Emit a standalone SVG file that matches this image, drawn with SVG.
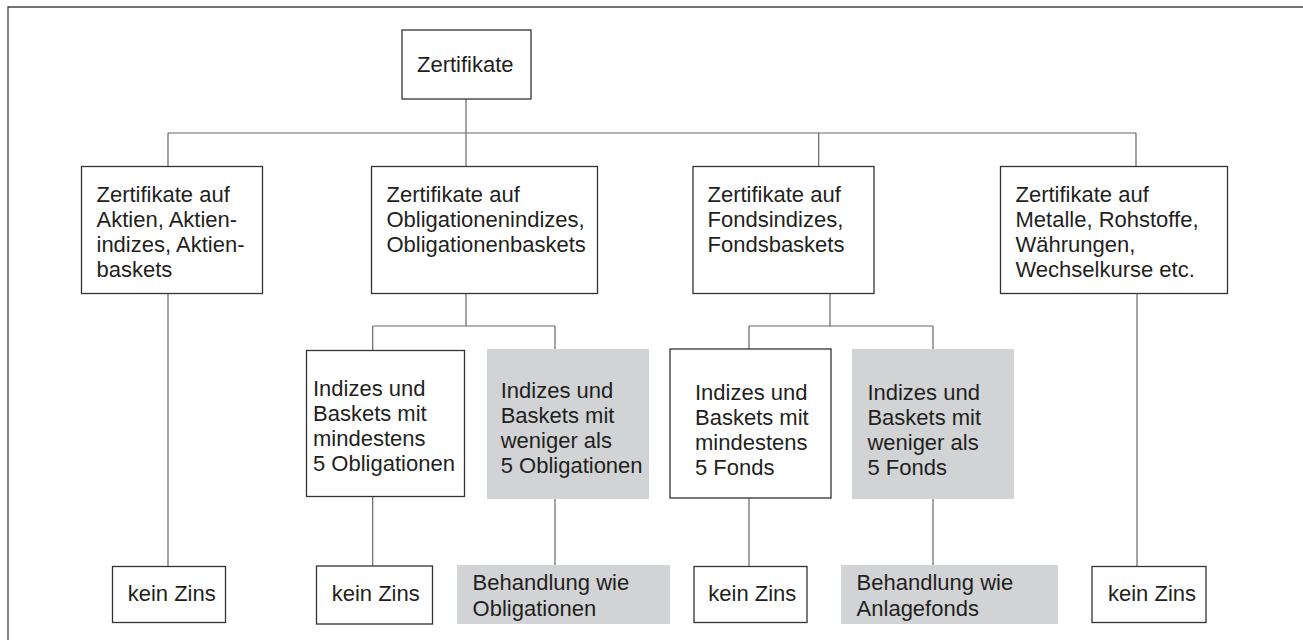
<svg xmlns="http://www.w3.org/2000/svg" width="1303" height="640" viewBox="0 0 1303 640">
<style>
.bg{fill:#ffffff}
.box{fill:#ffffff;stroke:#333333;stroke-width:1.3}
.gbox{fill:#d1d3d4;stroke:none}
.t{font-family:"Liberation Sans",Arial,sans-serif;font-size:22px;fill:#231f20}
.c{fill:none;stroke:#666666;stroke-width:1.2}
.frame{fill:none;stroke:#444444;stroke-width:1.3}
</style>
<rect class="bg" x="0" y="0" width="1303" height="640"/>
<path class="frame" d="M8 640 V7 H1303"/>
<g id="connectors">
<path class="c" d="M466 99 V133 M168 133 H1136 M168 133 V166.5 M466 133 V166.5 M818.7 133 V166.5 M1136 133 V166.5"/>
<path class="c" d="M168 293.5 V566.5"/>
<path class="c" d="M466 293.5 V326 M372.7 326 H555 M372.7 326 V350.5 M555 326 V349"/>
<path class="c" d="M372.7 496.5 V566"/>
<path class="c" d="M555 499 V565"/>
<path class="c" d="M830 293.5 V326 M749 326 H933 M749 326 V349 M933 326 V349"/>
<path class="c" d="M749 498 V566.5"/>
<path class="c" d="M933 499 V565"/>
<path class="c" d="M1137 293.5 V566.5"/>
</g>
<g id="root"><rect class="box" x="402" y="30" width="129" height="69"/><text class="t" x="417" y="71.5">Zertifikate</text></g>
<g id="b1"><rect class="box" x="81.5" y="166.5" width="181" height="127"/><text class="t" x="96.5" y="201.5">Zertifikate auf</text><text class="t" x="96.5" y="226.5">Aktien, Aktien-</text><text class="t" x="96.5" y="251.5">indizes, Aktien-</text><text class="t" x="96.5" y="276.5">baskets</text></g>
<g id="b2"><rect class="box" x="371.5" y="166.5" width="226" height="127"/><text class="t" x="386.5" y="201.5">Zertifikate auf</text><text class="t" x="386.5" y="226.5">Obligationenindizes,</text><text class="t" x="386.5" y="251.5">Obligationenbaskets</text></g>
<g id="b3"><rect class="box" x="693" y="166.5" width="181" height="127"/><text class="t" x="707.5" y="201.5">Zertifikate auf</text><text class="t" x="707.5" y="226.5">Fondsindizes,</text><text class="t" x="707.5" y="251.5">Fondsbaskets</text></g>
<g id="b4"><rect class="box" x="1000.5" y="166.5" width="227" height="127"/><text class="t" x="1015.5" y="201.5">Zertifikate auf</text><text class="t" x="1015.5" y="226.5">Metalle, Rohstoffe,</text><text class="t" x="1015.5" y="251.5">Währungen,</text><text class="t" x="1015.5" y="276.5">Wechselkurse etc.</text></g>
<g id="b2a"><rect class="box" x="306.5" y="350.5" width="158" height="146"/><text class="t" x="313" y="395.5">Indizes und</text><text class="t" x="313" y="420.5">Baskets mit</text><text class="t" x="313" y="445.5">mindestens</text><text class="t" x="313" y="470.5">5 Obligationen</text></g>
<g id="b2b"><rect class="gbox" x="487" y="349" width="162" height="150"/><text class="t" x="500.7" y="397.5">Indizes und</text><text class="t" x="500.7" y="422.5">Baskets mit</text><text class="t" x="500.7" y="447.5">weniger als</text><text class="t" x="500.7" y="473">5 Obligationen</text></g>
<g id="b3a"><rect class="box" x="670" y="349" width="161" height="149"/><text class="t" x="695" y="400">Indizes und</text><text class="t" x="695" y="425">Baskets mit</text><text class="t" x="695" y="450">mindestens</text><text class="t" x="695" y="475">5 Fonds</text></g>
<g id="b3b"><rect class="gbox" x="852" y="349" width="162" height="150"/><text class="t" x="867.4" y="400">Indizes und</text><text class="t" x="867.4" y="425">Baskets mit</text><text class="t" x="867.4" y="450">weniger als</text><text class="t" x="867.4" y="475">5 Fonds</text></g>
<g id="k1"><rect class="box" x="112.5" y="566.5" width="113" height="56"/><text class="t" x="127.7" y="601">kein Zins</text></g>
<g id="k2"><rect class="box" x="316.5" y="566" width="116" height="58"/><text class="t" x="331.7" y="601">kein Zins</text></g>
<g id="g2"><rect class="gbox" x="457" y="565" width="213" height="59"/><text class="t" x="472.6" y="590">Behandlung wie</text><text class="t" x="472.6" y="616">Obligationen</text></g>
<g id="k3"><rect class="box" x="694" y="566.5" width="113" height="56"/><text class="t" x="708.3" y="601">kein Zins</text></g>
<g id="g3"><rect class="gbox" x="841" y="565" width="217" height="59"/><text class="t" x="856.6" y="590">Behandlung wie</text><text class="t" x="856.6" y="616">Anlagefonds</text></g>
<g id="k4"><rect class="box" x="1092" y="566.5" width="114" height="56"/><text class="t" x="1108" y="601">kein Zins</text></g>
</svg>
